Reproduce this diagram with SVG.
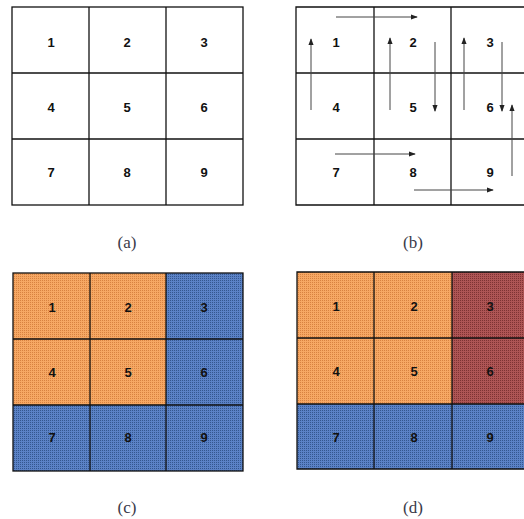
<svg xmlns="http://www.w3.org/2000/svg" width="524" height="519" viewBox="0 0 524 519">
<defs>
<style>
.g{fill:none;stroke:#111;stroke-width:1.3}
.w{fill:#fff}
.n{font-family:"Liberation Sans",Arial,sans-serif;font-weight:bold;font-size:13px;fill:#111;text-anchor:middle;dominant-baseline:central}
.cap{font-family:"Liberation Serif","DejaVu Serif",serif;font-size:17px;fill:#3a3a4a;text-anchor:middle}
.a{stroke:#444;stroke-width:1;fill:none;marker-end:url(#ah)}
</style>
<marker id="ah" viewBox="0 0 8 8" refX="7" refY="4" markerWidth="7" markerHeight="7" markerUnits="userSpaceOnUse" orient="auto">
<path d="M0,1 L8,4 L0,7 Z" fill="#222"/>
</marker>
<pattern id="po" width="2" height="2" patternUnits="userSpaceOnUse">
<rect width="2" height="2" fill="#F6A864"/><rect width="1" height="1" fill="#D88240"/>
</pattern>
<pattern id="pb" width="2" height="2" patternUnits="userSpaceOnUse">
<rect width="2" height="2" fill="#5B82C6"/><rect width="1" height="1" fill="#34578F"/>
</pattern>
<pattern id="pr" width="2" height="2" patternUnits="userSpaceOnUse">
<rect width="2" height="2" fill="#AE5555"/><rect width="1" height="1" fill="#7E3333"/>
</pattern>
</defs>

<!-- Panel (a) -->
<g id="panel-a">
<rect class="w" x="12" y="7" width="231" height="198"/>
<g class="g">
<rect x="12" y="7" width="231" height="198"/>
<line x1="89" y1="7" x2="89" y2="205"/>
<line x1="166" y1="7" x2="166" y2="205"/>
<line x1="12" y1="73" x2="243" y2="73"/>
<line x1="12" y1="139" x2="243" y2="139"/>
</g>
<text class="n" x="51" y="42">1</text><text class="n" x="127" y="42">2</text><text class="n" x="204" y="42">3</text>
<text class="n" x="51" y="107">4</text><text class="n" x="127" y="107">5</text><text class="n" x="204" y="107">6</text>
<text class="n" x="51" y="172">7</text><text class="n" x="127" y="172">8</text><text class="n" x="204" y="172">9</text>
<text class="cap" x="127" y="248">(a)</text>
</g>

<!-- Panel (b) -->
<g id="panel-b">
<g class="g">
<path d="M529,7 H296 V205 H529"/>
<line x1="374" y1="7" x2="374" y2="205"/>
<line x1="451" y1="7" x2="451" y2="205"/>
<line x1="296" y1="73" x2="529" y2="73"/>
<line x1="296" y1="139" x2="529" y2="139"/>
</g>
<text class="n" x="336" y="42">1</text><text class="n" x="413" y="42">2</text><text class="n" x="490" y="42">3</text>
<text class="n" x="336" y="107">4</text><text class="n" x="413" y="107">5</text><text class="n" x="490" y="107">6</text>
<text class="n" x="336" y="172">7</text><text class="n" x="413" y="172">8</text><text class="n" x="490" y="172">9</text>
<text class="cap" x="413" y="248">(b)</text>
</g>

<g id="connectors">
<line class="a" x1="336" y1="17" x2="417" y2="17"/>
<line class="a" x1="311" y1="110" x2="311" y2="39"/>
<line class="a" x1="390" y1="110" x2="390" y2="38"/>
<line class="a" x1="435" y1="42" x2="435" y2="111"/>
<line class="a" x1="464" y1="110" x2="464" y2="38"/>
<line class="a" x1="502" y1="42" x2="502" y2="111"/>
<line class="a" x1="512" y1="176" x2="512" y2="105"/>
<line class="a" x1="335" y1="154" x2="415" y2="154"/>
<line class="a" x1="414" y1="190" x2="493" y2="190"/>
</g>

<!-- Panel (c) -->
<g id="panel-c">
<rect x="13" y="273" width="153" height="132" fill="url(#po)"/>
<rect x="166" y="273" width="77" height="132" fill="url(#pb)"/>
<rect x="13" y="405" width="230" height="66" fill="url(#pb)"/>
<g class="g">
<rect x="13" y="273" width="230" height="198"/>
<line x1="90" y1="273" x2="90" y2="471"/>
<line x1="166" y1="273" x2="166" y2="471"/>
<line x1="13" y1="339" x2="243" y2="339"/>
<line x1="13" y1="405" x2="243" y2="405"/>
</g>
<text class="n" x="52" y="307">1</text><text class="n" x="128" y="307">2</text><text class="n" x="204" y="307">3</text>
<text class="n" x="52" y="372">4</text><text class="n" x="128" y="372">5</text><text class="n" x="204" y="372">6</text>
<text class="n" x="52" y="437">7</text><text class="n" x="128" y="437">8</text><text class="n" x="204" y="437">9</text>
<text class="cap" x="127" y="513">(c)</text>
</g>

<!-- Panel (d) -->
<g id="panel-d">
<rect x="297" y="272" width="155" height="132" fill="url(#po)"/>
<rect x="452" y="272" width="80" height="132" fill="url(#pr)"/>
<rect x="297" y="404" width="235" height="65" fill="url(#pb)"/>
<g class="g">
<path d="M530,272 H297 V469 H530"/>
<line x1="374" y1="272" x2="374" y2="469"/>
<line x1="452" y1="272" x2="452" y2="469"/>
<line x1="297" y1="338" x2="530" y2="338"/>
<line x1="297" y1="404" x2="530" y2="404"/>
</g>
<text class="n" x="336" y="306">1</text><text class="n" x="414" y="306">2</text><text class="n" x="490" y="306">3</text>
<text class="n" x="336" y="371">4</text><text class="n" x="414" y="371">5</text><text class="n" x="490" y="371">6</text>
<text class="n" x="336" y="437">7</text><text class="n" x="414" y="437">8</text><text class="n" x="490" y="437">9</text>
<text class="cap" x="413" y="513">(d)</text>
</g>
</svg>
